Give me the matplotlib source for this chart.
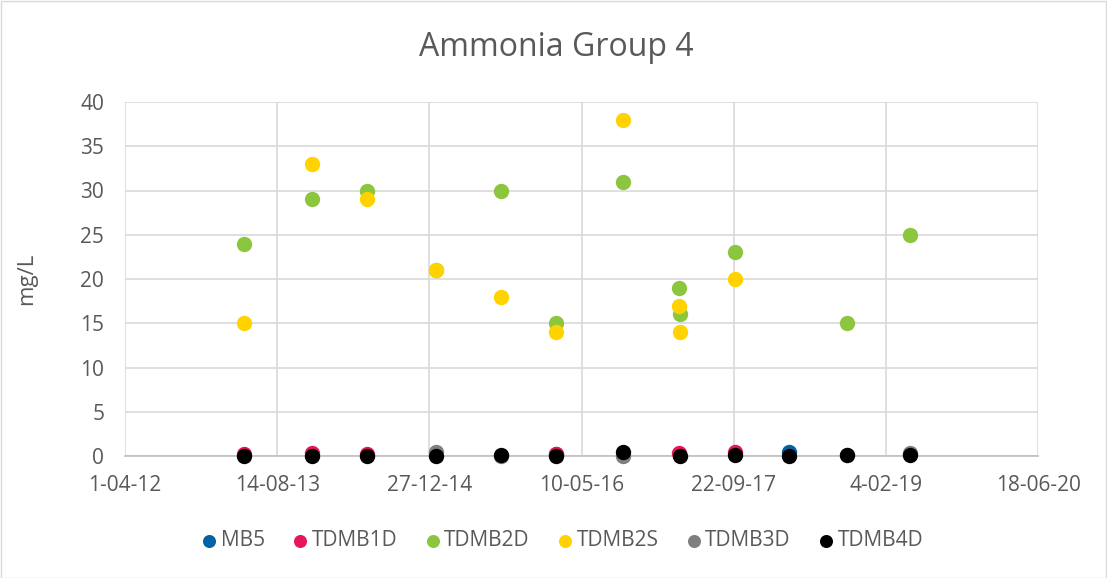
import matplotlib
matplotlib.use("Agg")
import matplotlib.pyplot as plt
from datetime import datetime

plt.rcParams['font.family'] = ['Open Sans', 'DejaVu Sans']

# ---- data ----
mb5_dates = ["2016-02-15", "2018-03-24"]
mb5_vals = [0.2, 0.5]

tdmb1d_dates = ["2013-04-26", "2013-12-06", "2014-06-05", "2016-02-15", "2017-03-28", "2017-09-25"]
tdmb1d_vals = [0.2, 0.35, 0.25, 0.2, 0.35, 0.5]

tdmb2d_dates = ["2013-04-26", "2013-12-06", "2014-06-05", "2015-01-19", "2015-08-18", "2016-02-15",
                "2016-09-25", "2017-03-28", "2017-03-31", "2017-09-25", "2018-10-01", "2019-04-25"]
tdmb2d_vals = [24, 29, 30, 21, 30, 15, 31, 19, 16, 23, 15, 25]

tdmb2s_dates = ["2013-04-26", "2013-12-06", "2014-06-05", "2015-01-19", "2015-08-18", "2016-02-15",
                "2016-09-25", "2017-03-28", "2017-03-31", "2017-09-25"]
tdmb2s_vals = [15, 33, 29, 21, 18, 14, 38, 17, 14, 20]

tdmb3d_dates = ["2015-01-19", "2015-08-18", "2016-09-25", "2018-10-01", "2019-04-25"]
tdmb3d_vals = [0.5, 0.0, 0.0, 0.1, 0.3]

tdmb4d_dates = ["2013-04-26", "2013-12-06", "2014-06-05", "2015-01-19", "2015-08-18", "2016-02-15",
                "2016-09-25", "2017-03-31", "2017-09-25", "2018-03-24", "2018-10-01", "2019-04-25"]
tdmb4d_vals = [0.0, 0.0, 0.0, 0.0, 0.1, 0.0, 0.4, 0.0, 0.1, 0.0, 0.1, 0.1]

series_names = ["MB5", "TDMB1D", "TDMB2D", "TDMB2S", "TDMB3D", "TDMB4D"]
series_colors = ["#0063A6", "#E6155E", "#8CC63F", "#FFD200", "#7F7F7F", "#000000"]

title = "Ammonia Group 4"
y_label = "mg/L"
x_tick_dates = ["2012-04-01", "2013-08-14", "2014-12-27", "2016-05-10", "2017-09-22", "2019-02-04", "2020-06-18"]
x_tick_labels = ["1-04-12", "14-08-13", "27-12-14", "10-05-16", "22-09-17", "4-02-19", "18-06-20"]
y_ticks = [0, 5, 10, 15, 20, 25, 30, 35, 40]

# ---- plot ----
W, H = 1107, 578
fig = plt.figure(figsize=(W / 100, H / 100), dpi=100)
ax_l, ax_r, ax_t, ax_b = 125, 1038, 102, 456
ax = fig.add_axes([ax_l / W, 1 - ax_b / H, (ax_r - ax_l) / W, (ax_b - ax_t) / H])

def to_dt(lst):
    return [datetime.strptime(s, "%Y-%m-%d") for s in lst]

all_series = [
    (mb5_dates, mb5_vals), (tdmb1d_dates, tdmb1d_vals), (tdmb2d_dates, tdmb2d_vals),
    (tdmb2s_dates, tdmb2s_vals), (tdmb3d_dates, tdmb3d_vals), (tdmb4d_dates, tdmb4d_vals),
]
for (d, v), name, col in zip(all_series, series_names, series_colors):
    ax.scatter(to_dt(d), v, s=122, color=col, label=name, zorder=3, linewidths=0, clip_on=False)

xt = to_dt(x_tick_dates)
ax.set_xlim(xt[0], xt[-1])
ax.set_xticks(xt)
ax.set_xticklabels(x_tick_labels)
ax.set_ylim(0, 40)
ax.set_yticks(y_ticks)

grid_col = "#D9D9D9"
ax.grid(True, color=grid_col, linewidth=1.2, zorder=0)
ax.set_axisbelow(True)
for s in ["top", "right", "left"]:
    ax.spines[s].set_visible(False)
ax.spines["bottom"].set_color("#BFBFBF")
ax.spines["bottom"].set_linewidth(1.2)
ax.tick_params(axis="both", length=0, labelsize=15, colors="#595959")
ax.tick_params(axis="y", pad=15)
ax.tick_params(axis="x", pad=14)

ax.set_ylabel(y_label, fontsize=16, color="#595959")
ax.yaxis.set_label_coords((37 - ax_l) / (ax_r - ax_l), 0.5)
fig.text(556 / W, 1 - 47 / H, title, ha="center", va="center", fontsize=23, color="#595959")

leg = fig.legend(loc="center", bbox_to_anchor=(562 / W, 1 - 541 / H), ncol=6, frameon=False,
                 fontsize=15, handlelength=0.8, handletextpad=0.15, columnspacing=1.3,
                 markerscale=0.85)
for t in leg.get_texts():
    t.set_color("#595959")

# outer border
fig.add_artist(plt.Rectangle((0.5 / W, 0.5 / H), 1 - 1.5 / W, 1 - 1.5 / H, transform=fig.transFigure,
                             fill=False, edgecolor="#D9D9D9", linewidth=1))

fig.savefig("out.png", dpi=100)
